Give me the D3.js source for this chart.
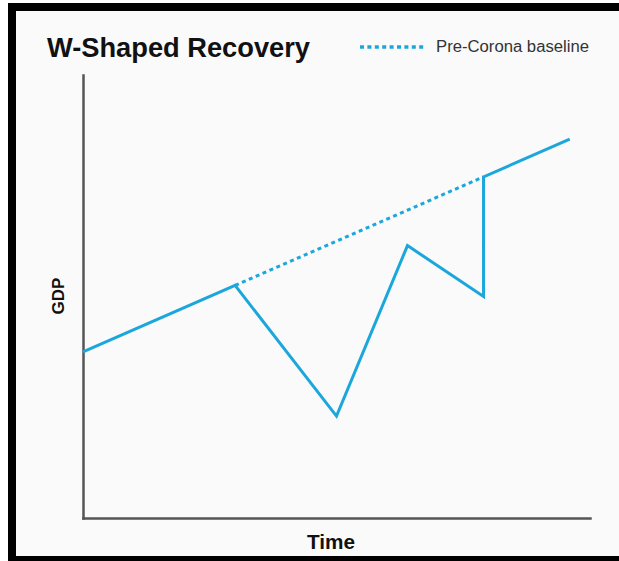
<!DOCTYPE html>
<html>
<head>
<meta charset="utf-8">
<script src="https://cdn.jsdelivr.net/npm/d3@7"></script>
<style>
  body { margin: 0; background: #ffffff; }
</style>
</head>
<body>
<script>
// chart data (time index, GDP index)
let pathTime = [0, 30, 50, 64, 79, 79, 96];
let pathGdp = [37.5, 52.5, 23, 61.5, 50, 77, 85.5];
let baseTime = [30, 79];
let baseGdp = [52.5, 77];

let titleText = "W-Shaped Recovery";
let legendText = "Pre-Corona baseline";
let xLabel = "Time";
let yLabel = "GDP";

let blue = "#1ba7dc";

let svg = d3.select("body").append("svg")
  .attr("width", 619)
  .attr("height", 561);

// frame and background
svg.append("rect")
  .attr("x", 8).attr("y", 3)
  .attr("width", 611).attr("height", 558)
  .style("fill", "#000");
svg.append("rect")
  .attr("x", 16).attr("y", 11)
  .attr("width", 603).attr("height", 545)
  .style("fill", "#fafafa");

// scales
let xScale = d3.scaleLinear().domain([0, 100]).range([83, 590]);
let yScale = d3.scaleLinear().domain([0, 100]).range([518, 75]);

// axes (no ticks)
let xAxis = d3.axisBottom(xScale).tickValues([]).tickSizeOuter(0);
let yAxis = d3.axisLeft(yScale).tickValues([]).tickSizeOuter(0);

svg.append("g")
  .attr("transform", "translate(0, 518)")
  .call(xAxis);
svg.append("g")
  .attr("transform", "translate(83, 0)")
  .call(yAxis);
svg.selectAll(".domain")
  .attr("stroke", "#555")
  .attr("stroke-width", 2.5)
  .attr("stroke-linecap", "square");

// axis labels
svg.append("text")
  .attr("x", 331)
  .attr("y", 549)
  .attr("text-anchor", "middle")
  .attr("textLength", 48)
  .attr("lengthAdjust", "spacingAndGlyphs")
  .style("font-family", "Liberation Sans, Arial, sans-serif")
  .style("font-weight", "bold")
  .style("font-size", "21px")
  .style("fill", "#111")
  .text(xLabel);

svg.append("text")
  .attr("transform", "translate(64, 296) rotate(-90)")
  .attr("text-anchor", "middle")
  .style("font-family", "Liberation Sans, Arial, sans-serif")
  .style("font-weight", "bold")
  .style("font-size", "17px")
  .style("fill", "#111")
  .text(yLabel);

// title
svg.append("text")
  .attr("x", 47)
  .attr("y", 57)
  .attr("textLength", 263)
  .attr("lengthAdjust", "spacingAndGlyphs")
  .style("font-family", "Liberation Sans, Arial, sans-serif")
  .style("font-weight", "bold")
  .style("font-size", "27px")
  .style("fill", "#111")
  .text(titleText);

// legend
svg.append("line")
  .attr("x1", 360).attr("x2", 426)
  .attr("y1", 47).attr("y2", 47)
  .attr("stroke", blue)
  .attr("stroke-width", 3.5)
  .attr("stroke-dasharray", "4,3.4");

svg.append("text")
  .attr("x", 436)
  .attr("y", 52)
  .attr("textLength", 153)
  .attr("lengthAdjust", "spacingAndGlyphs")
  .style("font-family", "Liberation Sans, Arial, sans-serif")
  .style("font-size", "16px")
  .style("fill", "#333")
  .text(legendText);

// lines
let line = d3.line()
  .x((d) => xScale(d[0]))
  .y((d) => yScale(d[1]));

svg.append("path")
  .datum(d3.zip(baseTime, baseGdp))
  .attr("d", line)
  .attr("fill", "none")
  .attr("stroke", blue)
  .attr("stroke-width", 3)
  .attr("stroke-dasharray", "4,3.5");

svg.append("path")
  .datum(d3.zip(pathTime, pathGdp))
  .attr("d", line)
  .attr("fill", "none")
  .attr("stroke", blue)
  .attr("stroke-width", 3)
  .attr("stroke-linejoin", "miter");
</script>
</body>
</html>
